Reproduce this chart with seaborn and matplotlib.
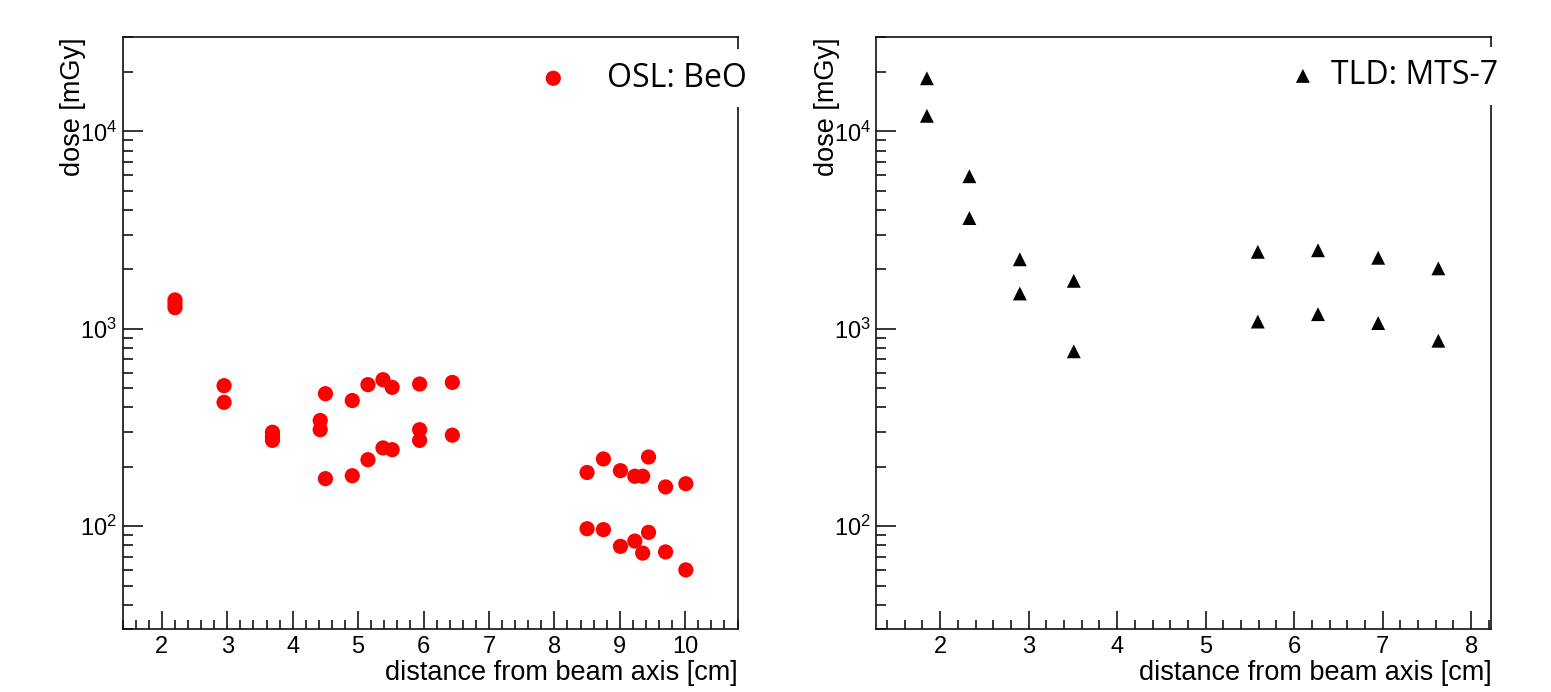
import matplotlib
matplotlib.use("Agg")
import matplotlib.pyplot as plt
from matplotlib.ticker import LogLocator, MultipleLocator, NullFormatter, LogFormatterMathtext
import pandas as pd
import seaborn as sns

# OSL (BeO) dosimeters
osl_dist = [2.2, 2.2, 2.2, 2.95, 2.95, 3.69, 3.69, 3.69, 4.42, 4.42, 4.5, 4.5,
            4.91, 4.91, 5.15, 5.15, 5.38, 5.38, 5.52, 5.52, 5.94, 5.94, 5.94,
            6.44, 6.44, 8.5, 8.5, 8.75, 8.75, 9.01, 9.01, 9.23, 9.23, 9.35, 9.35,
            9.44, 9.44, 9.70, 9.70, 10.01, 10.01]
osl_dose = [1400, 1340, 1280, 515, 424, 299, 285, 272, 343, 308, 469, 174,
            433, 180, 521, 217, 552, 249, 505, 244, 525, 308, 272,
            535, 289, 187, 97, 219, 96, 191, 79, 179, 84, 179, 73,
            224, 93, 158, 74, 164, 60]

# TLD (MTS-7) dosimeters
tld_dist = [1.85, 1.85, 2.33, 2.33, 2.90, 2.90, 3.51, 3.51,
            5.59, 5.59, 6.27, 6.27, 6.95, 6.95, 7.63, 7.63]
tld_dose = [18600, 12000, 5930, 3640, 2250, 1510, 1750, 769,
            2455, 1088, 2500, 1186, 2290, 1069, 2024, 870]

osl = pd.DataFrame({"dist": osl_dist, "dose": osl_dose})
tld = pd.DataFrame({"dist": tld_dist, "dose": tld_dose})

sns.set_theme(style="ticks")
plt.rcParams["font.family"] = ["Liberation Sans", "DejaVu Sans"]
plt.rcParams["axes.linewidth"] = 1.2
plt.rcParams["axes.edgecolor"] = "#111111"
for key in ["text.color", "axes.labelcolor", "xtick.color", "ytick.color"]:
    plt.rcParams[key] = "black"

fig = plt.figure(figsize=(15.51, 6.92), dpi=100)
ax1 = fig.add_axes([0.0791, 0.0906, 0.3964, 0.8555])
ax2 = fig.add_axes([0.5651, 0.0906, 0.3965, 0.8555])

sns.scatterplot(data=osl, x="dist", y="dose", ax=ax1, color="#ff0000", marker="o",
                s=120, edgecolor="none", label="OSL: BeO")
sns.scatterplot(data=tld, x="dist", y="dose", ax=ax2, color="black", marker="^",
                s=100, edgecolor="none", label="TLD: MTS-7")

panels = [(ax1, (1.4, 10.8), (0.664, 0.931), 1.37),
          (ax2, (1.28, 8.23), (0.657, 0.935), 0.58)]
for ax, xlim, leg_pos, textpad in panels:
    ax.set_yscale("log")
    ax.set_ylim(30, 30000)
    ax.set_xlim(*xlim)
    ax.xaxis.set_major_locator(MultipleLocator(1))
    ax.xaxis.set_minor_locator(MultipleLocator(0.2))
    ax.yaxis.set_major_locator(LogLocator(base=10))
    ax.yaxis.set_major_formatter(LogFormatterMathtext())
    ax.yaxis.set_minor_locator(LogLocator(base=10, subs=range(2, 10)))
    ax.yaxis.set_minor_formatter(NullFormatter())
    ax.tick_params(axis="y", which="major", direction="in", length=14.4, width=1.1, pad=4, labelsize=17)
    ax.tick_params(axis="y", which="minor", direction="in", length=7.2, width=1.1)
    ax.tick_params(axis="x", which="major", direction="in", length=13, width=1.1, pad=5, labelsize=17)
    ax.tick_params(axis="x", which="minor", direction="in", length=6.5, width=1.1)
    ax.tick_params(top=False, right=False, which="both")
    ax.set_xlabel("distance from beam axis [cm]", fontsize=19.5, loc="right")
    ax.set_ylabel("dose [mGy]", fontsize=19.5, loc="top")
    ax.xaxis.set_label_coords(1.0, -0.052)
    ax.yaxis.set_label_coords(-0.06, 1.0)
    leg = ax.legend(loc="center left", bbox_to_anchor=leg_pos, frameon=True,
                    fancybox=False, framealpha=1, facecolor="white", edgecolor="none",
                    borderpad=0.4, borderaxespad=0, handlelength=0.6,
                    handletextpad=textpad, prop={"family": ["Open Sans", "DejaVu Sans"], "size": 23})

fig.savefig("out.png", dpi=100)
